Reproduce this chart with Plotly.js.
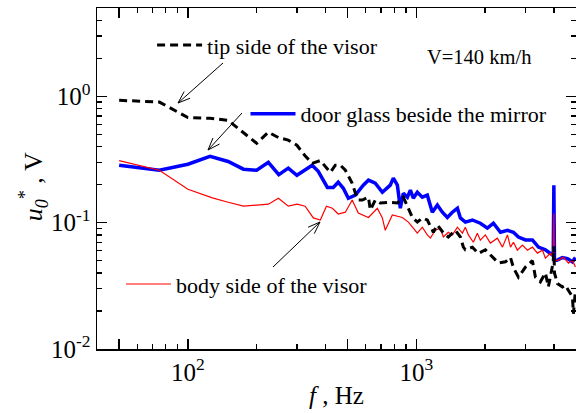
<!DOCTYPE html>
<html>
<head>
<meta charset="utf-8">
<script src="https://cdn.plot.ly/plotly-3.0.1.min.js"></script>
<style>html,body{margin:0;padding:0;background:#fff;}#chart{width:576px;height:413px;}</style>
</head>
<body>
<div id="chart"></div>
<script>
// Frequency (Hz) and amplitude u0* (V)
const tipF = [50, 75, 100, 125, 150, 175, 200, 225, 250, 275,
  300, 325, 350, 380, 420, 442, 465, 489, 524, 541,
  557, 580, 617, 629, 661, 695, 754, 826, 877, 961,
  1010, 1062, 1117, 1187, 1236, 1313, 1380, 1482, 1559, 1607,
  1639, 1760, 1869, 2005, 2153, 2287, 2455, 2583, 2661, 2799,
  3005, 3222, 3322, 3492, 3673, 3784, 3975, 4000, 4025, 4146,
  4361, 4495, 4634, 4823, 4872, 4970];
const tipV = [0.93, 0.90, 0.68, 0.67, 0.645, 0.52, 0.425, 0.52, 0.47, 0.45,
  0.41, 0.34, 0.295, 0.31, 0.25, 0.285, 0.285, 0.26, 0.205, 0.171,
  0.151, 0.151, 0.159, 0.126, 0.151, 0.143, 0.145, 0.143, 0.159, 0.110,
  0.101, 0.109, 0.105, 0.084, 0.096, 0.083, 0.077, 0.087, 0.077, 0.064,
  0.061, 0.064, 0.057, 0.061, 0.053, 0.048, 0.049, 0.053, 0.044, 0.037,
  0.0445, 0.050, 0.037, 0.034, 0.040, 0.031, 0.049, 0.065, 0.040, 0.033,
  0.031, 0.032, 0.029, 0.026, 0.019, 0.029];

const doorF = [50, 75, 100, 125, 150, 175, 200, 225, 250, 275,
  300, 336, 350, 372, 408, 433, 455, 479, 504, 541,
  586, 617, 661, 710, 769, 793, 826, 851, 877, 914,
  942, 970, 1010, 1062, 1117, 1175, 1236, 1300, 1367, 1438,
  1513, 1559, 1639, 1760, 1906, 2047, 2175, 2335, 2506, 2661,
  2799, 3005, 3222, 3423, 3673, 3863, 3975, 4000, 4025, 4146,
  4361, 4587, 4823, 4970];
const doorV = [0.285, 0.26, 0.29, 0.335, 0.305, 0.265, 0.26, 0.30, 0.24, 0.27,
  0.237, 0.275, 0.285, 0.255, 0.19, 0.19, 0.209, 0.187, 0.156, 0.165,
  0.198, 0.217, 0.205, 0.174, 0.198, 0.225, 0.198, 0.13, 0.171, 0.159,
  0.181, 0.156, 0.174, 0.159, 0.165, 0.121, 0.138, 0.121, 0.110, 0.121,
  0.130, 0.109, 0.101, 0.105, 0.099, 0.0905, 0.099, 0.084, 0.087, 0.084,
  0.077, 0.073, 0.073, 0.064, 0.061, 0.057, 0.055, 0.198, 0.050, 0.0505,
  0.053, 0.052, 0.049, 0.053];

const bodyF = [50, 75, 100, 128, 150, 175, 225, 249, 275, 301,
  326, 354, 380, 404, 429, 455, 489, 524, 557, 586,
  617, 675, 710, 731, 785, 868, 923, 970, 1010, 1062,
  1117, 1152, 1211, 1274, 1313, 1380, 1438, 1513, 1591, 1639,
  1690, 1777, 1850, 1906, 2005, 2110, 2263, 2383, 2506, 2583,
  2661, 2770, 2914, 3064, 3222, 3389, 3565, 3673, 3863, 3975,
  4000, 4025, 4188, 4405, 4634, 4823, 4970];
const bodyV = [0.31, 0.26, 0.184, 0.157, 0.145, 0.135, 0.14, 0.156, 0.135, 0.14,
  0.135, 0.109, 0.105, 0.135, 0.13, 0.117, 0.121, 0.151, 0.119, 0.115,
  0.11, 0.13, 0.109, 0.087, 0.115, 0.110, 0.101, 0.0905, 0.0826, 0.092,
  0.080, 0.0754, 0.087, 0.0905, 0.077, 0.084, 0.080, 0.092, 0.0826, 0.092,
  0.080, 0.070, 0.0826, 0.0727, 0.080, 0.069, 0.0754, 0.064, 0.080, 0.064,
  0.070, 0.0606, 0.0664, 0.0606, 0.064, 0.0574, 0.0606, 0.0524, 0.0574, 0.053,
  0.118, 0.050, 0.0505, 0.0533, 0.0478, 0.0505, 0.0445];

const seriesNames = ['door glass beside the mirror', 'body side of the visor', 'tip side of the visor'];
const xMajorTicks = [50, 100, 500, 1000];
const xMajorText = ['', '10<sup>2</sup>', '', '10<sup>3</sup>'];
const xMinorTicks = [60, 70, 80, 90, 200, 300, 400, 600, 700, 800, 900, 2000, 3000, 4000];
const yMajorTicks = [0.01, 0.1, 1];
const yMajorText = ['10<sup>-2</sup>', '10<sup>-1</sup>', '10<sup>0</sup>'];
const yMinorTicks = [0.02, 0.03, 0.04, 0.05, 0.06, 0.07, 0.08, 0.09,
  0.2, 0.3, 0.4, 0.5, 0.6, 0.7, 0.8, 0.9, 2, 3, 4];

const FONT = 'Liberation Serif, Times New Roman, serif';
const X_RANGE = [Math.log10(40), Math.log10(5000)];
const Y_RANGE = [-2, Math.log10(5)];
const W = 576, H = 413, M = {l: 97, r: 0, t: 8, b: 64};

const traces = [
  {x: doorF, y: doorV, name: seriesNames[0], mode: 'lines', legend: 'legend2',
   line: {color: '#0000ff', width: 3.5}},
  {x: bodyF, y: bodyV, name: seriesNames[1], mode: 'lines', legend: 'legend3',
   line: {color: '#ff0000', width: 1.2}},
  {x: tipF, y: tipV, name: seriesNames[2], mode: 'lines', legend: 'legend',
   line: {color: '#000000', width: 3, dash: '8px,5px'}}
];

const legendBase = {bgcolor: 'rgba(0,0,0,0)', borderwidth: 0, xanchor: 'left', yanchor: 'middle',
  itemwidth: 45, font: {family: FONT, size: 22, color: '#000'}};

// annotation arrows (tail -> head), positions in page pixels
const arrows = [
  {tail: [223, 63], head: [178, 103]},
  {tail: [242, 113], head: [208, 150]},
  {tail: [273, 267], head: [320, 222]}
];
const pw = W - M.l - M.r, ph = H - M.t - M.b;
function toPaper(p) { return [(p[0] - M.l) / pw, (H - M.b - p[1]) / ph]; }
const shapes = [];
arrows.forEach(a => {
  const dx = a.tail[0] - a.head[0], dy = a.tail[1] - a.head[1];
  const len = Math.hypot(dx, dy), bx = dx / len, by = dy / len;
  const ang = 20 * Math.PI / 180, L = 13;
  const arm = s => [a.head[0] + L * (bx * Math.cos(s * ang) - by * Math.sin(s * ang)),
                    a.head[1] + L * (bx * Math.sin(s * ang) + by * Math.cos(s * ang))];
  const t = toPaper(a.tail), h = toPaper(a.head), p1 = toPaper(arm(1)), p2 = toPaper(arm(-1));
  shapes.push({type: 'line', xref: 'paper', yref: 'paper', x0: t[0], y0: t[1], x1: h[0], y1: h[1],
    line: {color: '#000', width: 1}});
  shapes.push({type: 'path', xref: 'paper', yref: 'paper',
    path: `M${p1[0]},${p1[1]}L${h[0]},${h[1]}L${p2[0]},${p2[1]}`, line: {color: '#000', width: 1}});
});

const layout = {
  width: W, height: H, margin: M,
  paper_bgcolor: '#fff', plot_bgcolor: '#fff',
  font: {family: FONT, color: '#000'},
  showlegend: true,
  legend: Object.assign({}, legendBase, {x: 0.115, y: 0.891}),
  legend2: Object.assign({}, legendBase, {x: 0.31, y: 0.689}),
  legend3: Object.assign({}, legendBase, {x: 0.05, y: 0.19}),
  xaxis: {
    type: 'log', range: X_RANGE, showgrid: false, zeroline: false,
    showline: true, linecolor: '#000', linewidth: 1.5, mirror: 'ticks',
    ticks: 'inside', ticklen: 10, tickwidth: 1.3, tickcolor: '#000',
    tickmode: 'array', tickvals: xMajorTicks, ticktext: xMajorText,
    tickfont: {family: FONT, size: 25, color: '#000'},
    minor: {tickmode: 'array', tickvals: xMinorTicks, ticks: 'inside', ticklen: 5, tickwidth: 1.3, tickcolor: '#000', showgrid: false},
    title: {text: '<i>f</i> , Hz', font: {family: FONT, size: 25, color: '#000'}, standoff: 2}
  },
  yaxis: {
    type: 'log', range: Y_RANGE, showgrid: false, zeroline: false,
    showline: true, linecolor: '#000', linewidth: 1.5, mirror: 'ticks',
    ticks: 'inside', ticklen: 10, tickwidth: 1.3, tickcolor: '#000',
    tickmode: 'array', tickvals: yMajorTicks, ticktext: yMajorText,
    tickfont: {family: FONT, size: 25, color: '#000'},
    minor: {tickmode: 'array', tickvals: yMinorTicks, ticks: 'inside', ticklen: 5, tickwidth: 1.3, tickcolor: '#000', showgrid: false}
  },
  shapes: shapes,
  annotations: [
    {xref: 'paper', yref: 'paper', x: 0.797, y: 0.856, xanchor: 'center', yanchor: 'middle',
     text: 'V=140 km/h', showarrow: false, font: {family: FONT, size: 20.5, color: '#000'}},
    {xref: 'paper', yref: 'paper', x: -0.133, y: 0.475, xanchor: 'center', yanchor: 'middle', textangle: -90,
     text: '<i>u</i><sub><i>0</i></sub><sup>*</sup> , V', showarrow: false, font: {family: FONT, size: 26, color: '#000'}}
  ]
};

Plotly.newPlot('chart', traces, layout, {staticPlot: true, displayModeBar: false});
</script>
</body>
</html>
